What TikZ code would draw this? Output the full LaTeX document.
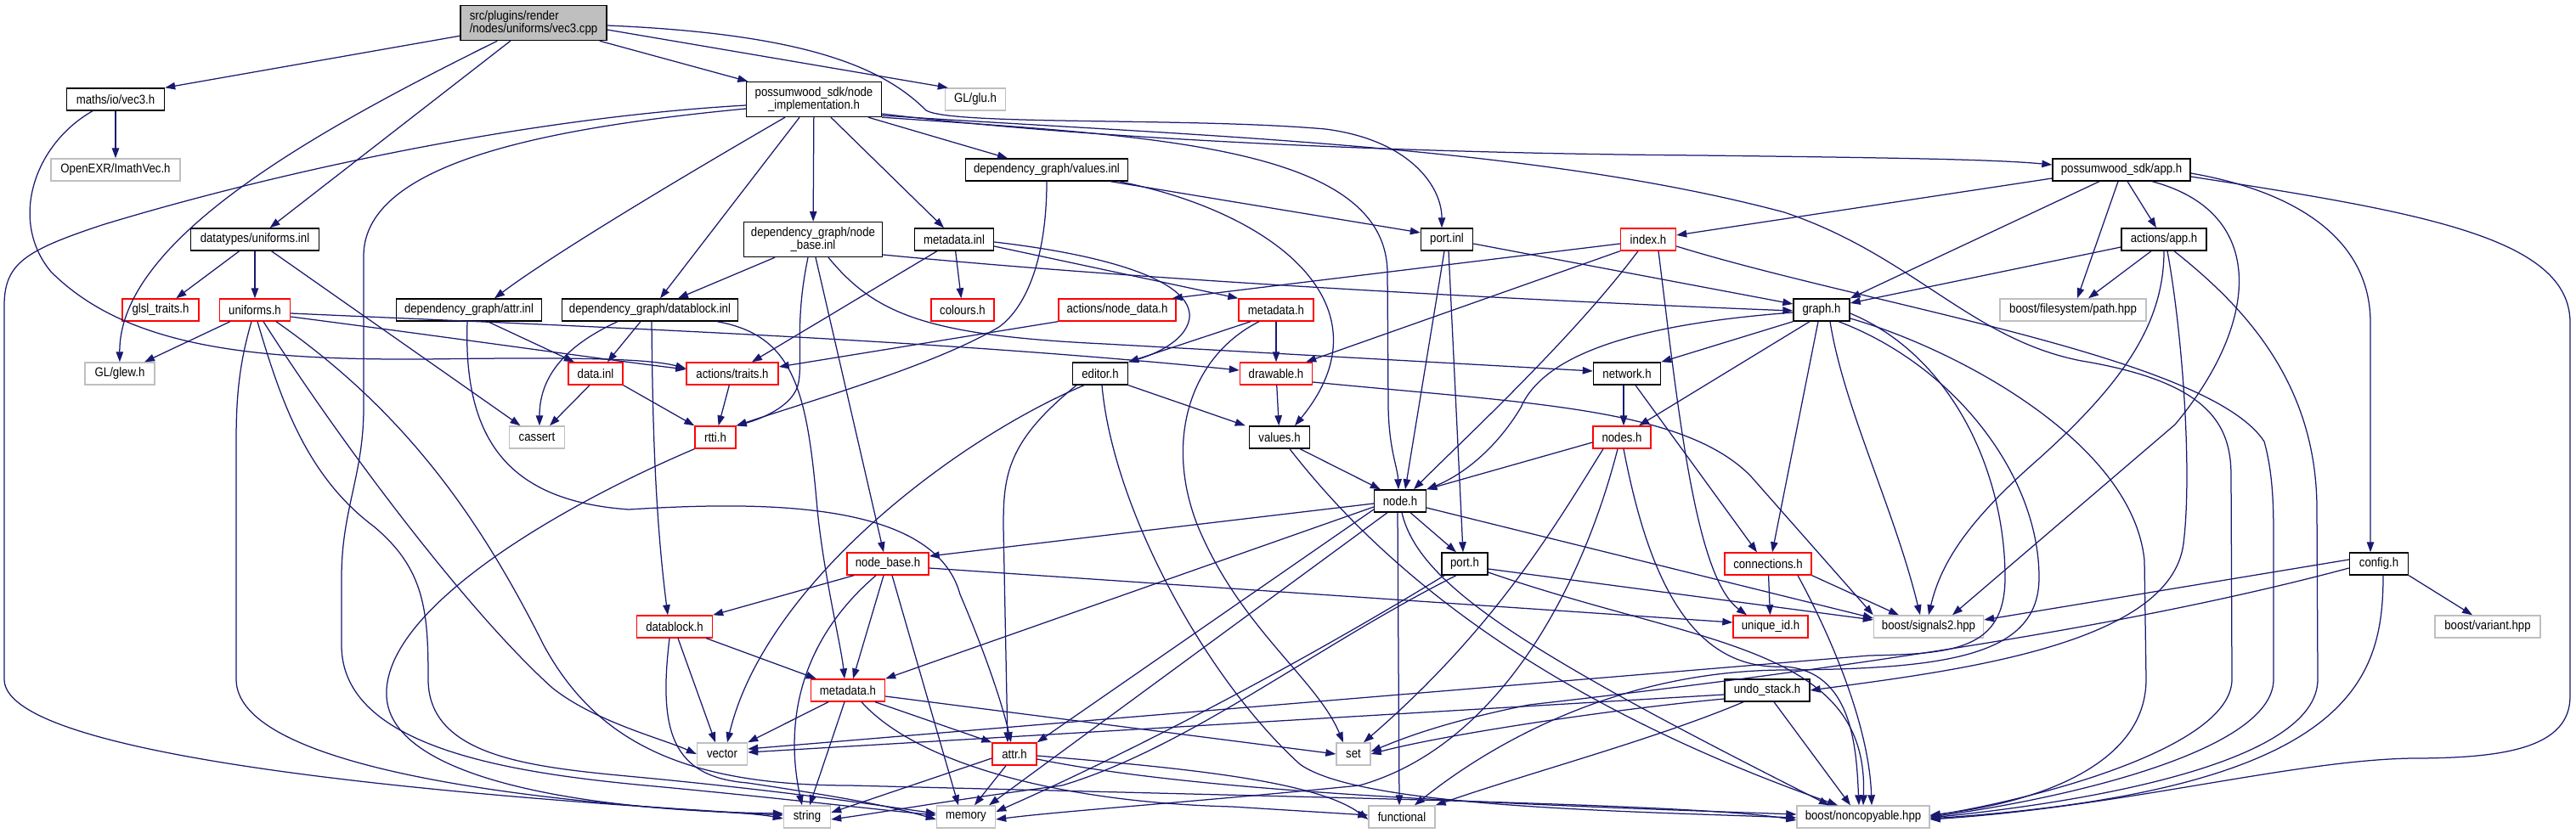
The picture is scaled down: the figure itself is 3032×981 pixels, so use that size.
\documentclass[tikz,border=0pt]{standalone}
\usepackage{fontspec}
\setmainfont{Liberation Sans}[FakeStretch=0.88]
\usetikzlibrary{arrows.meta}
\definecolor{edgec}{HTML}{191970}
\definecolor{gry}{HTML}{BFBFBF}
\definecolor{rd}{HTML}{FF0000}
\begin{document}
\begin{tikzpicture}[x=1pt,y=-1pt,
 nb/.style={draw=black,line width=1.4pt,fill=white,inner sep=0pt,minimum height=26pt,font=\fontsize{15pt}{14.5pt}\selectfont},
 nr/.style={nb,draw=rd},
 ng/.style={nb,draw=gry},
 edg/.style={draw=edgec,line width=1.25pt,-{Triangle[length=12pt,width=8.5pt]}}]
\useasboundingbox (0,0) rectangle (3032,981);
% ---------------- nodes
\node[nb,fill=gry,minimum width=172pt,minimum height=41pt,align=left] (main) at (628,27) {src/plugins/render\\/nodes/uniforms/vec3.cpp};
\node[nb,minimum width=115pt] (vec3h) at (136,117) {maths/io/vec3.h};
\node[ng,minimum width=152pt] (imath) at (136,200) {OpenEXR/ImathVec.h};
\node[nb,minimum width=151pt] (uinl) at (300,282) {datatypes/uniforms.inl};
\node[nr,minimum width=90pt] (glsl) at (189,365) {glsl\_traits.h};
\node[nr,minimum width=83pt] (unih) at (300,365) {uniforms.h};
\node[ng,minimum width=82pt] (glew) at (141,440) {GL/glew.h};
\node[nb,minimum width=171pt] (attrinl) at (552,365) {dependency\_graph/attr.inl};
\node[nb,minimum width=207pt] (dblinl) at (765,365) {dependency\_graph/datablock.inl};
\node[nr,minimum width=64pt] (datainl) at (701,440) {data.inl};
\node[nb,minimum width=159pt,minimum height=41pt,align=center] (nimpl) at (958,117) {possumwood\_sdk/node\\\_implementation.h};
\node[ng,minimum width=71pt] (glu) at (1148,117) {GL/glu.h};
\node[nb,minimum width=191pt] (valinl) at (1232,200) {dependency\_graph/values.inl};
\node[nb,minimum width=163pt,minimum height=41pt,align=center] (nbinl) at (957,282) {dependency\_graph/node\\\_base.inl};
\node[nb,minimum width=93pt] (mdinl) at (1123,282) {metadata.inl};
\node[nr,minimum width=74pt] (colours) at (1133,365) {colours.h};
\node[nr,minimum width=138pt] (nodedata) at (1315,365) {actions/node\_data.h};
\node[nr,minimum width=88pt] (mdh1) at (1502,365) {metadata.h};
\node[nr,minimum width=108pt] (traits) at (862,440) {actions/traits.h};
\node[nb,minimum width=65pt] (editor) at (1295,440) {editor.h};
\node[nr,minimum width=85pt] (drawable) at (1502,440) {drawable.h};
\node[nb,minimum width=61pt] (portinl) at (1703,282) {port.inl};
\node[nr,minimum width=65pt] (index) at (1940,282) {index.h};
\node[nb,minimum width=66pt] (graph) at (2144,365) {graph.h};
\node[nb,minimum width=79pt] (network) at (1915,440) {network.h};
\node[nb,minimum width=162pt] (apph) at (2497,200) {possumwood\_sdk/app.h};
\node[nb,minimum width=100pt] (actapp) at (2547,282) {actions/app.h};
\node[ng,minimum width=172pt] (fspath) at (2440,365) {boost/filesystem/path.hpp};
\node[ng,minimum width=65pt] (cassert) at (632,515) {cassert};
\node[nr,minimum width=48pt] (rtti) at (842,515) {rtti.h};
\node[nb,minimum width=71pt] (valuesh) at (1506,515) {values.h};
\node[nr,minimum width=96pt] (nodebaseh) at (1045,664) {node\_base.h};
\node[nr,minimum width=89pt] (dbh) at (794,738) {datablock.h};
\node[nr,minimum width=87pt] (mdh2) at (998,813) {metadata.h};
\node[ng,minimum width=59pt] (vector) at (850,888) {vector};
\node[nr,minimum width=52pt] (attrh) at (1194,888) {attr.h};
\node[ng,minimum width=55pt] (string) at (950,962) {string};
\node[ng,minimum width=69pt] (memory) at (1137,962) {memory};
\node[nr,minimum width=68pt] (nodesh) at (1909,515) {nodes.h};
\node[nb,minimum width=61pt] (nodeh) at (1648,590) {node.h};
\node[nb,minimum width=54pt] (porth) at (1724,664) {port.h};
\node[nr,minimum width=102pt] (conn) at (2081,664) {connections.h};
\node[nr,minimum width=88pt] (uid) at (2084,738) {unique\_id.h};
\node[nb,minimum width=100pt] (undo) at (2080,813) {undo\_stack.h};
\node[ng,minimum width=40pt] (set) at (1593,888) {set};
\node[ng,minimum width=78pt] (functional) at (1650,962) {functional};
\node[ng,minimum width=156pt] (noncopy) at (2193,962) {boost/noncopyable.hpp};
\node[ng,minimum width=129pt] (signals2) at (2270,738) {boost/signals2.hpp};
\node[nb,minimum width=69pt] (config) at (2800,664) {config.h};
\node[ng,minimum width=124pt] (variant) at (2928,738) {boost/variant.hpp};
% ---------------- edges
% main
\draw[edg] (main) -- (vec3h.north east);
\draw[edg] (main) .. controls (380,150) and (140,280) .. (glew);
\draw[edg] (main) -- (uinl);
\draw[edg] (main) -- (nimpl);
\draw[edg] ([yshift=-8pt]main.east) -- ([xshift=4pt]glu.north west);
\draw[edg] ([yshift=-3pt]main.east) .. controls (950,40) and (1040,80) .. (1090,130) .. controls (1120,148) and (1400,138) .. (1560,152) .. controls (1660,165) and (1697,220) .. ([xshift=-6pt]portinl.north);
% vec3h
\draw[edg] (vec3h) -- (imath);
\draw[edg] ([xshift=-27pt]vec3h.south) .. controls (40,170) and (10,260) .. (60,320) .. controls (150,410) and (300,424) .. (500,423) .. controls (650,421) and (760,421) .. ([yshift=6pt]traits.west);
% uinl
\draw[edg] (uinl) -- (glsl);
\draw[edg] (uinl) -- (unih);
\draw[edg] (uinl) -- (cassert);
% unih
\draw[edg] (unih) -- (glew);
\draw[edg] ([yshift=-8pt]unih.east) .. controls (550,400) and (700,422) .. ([yshift=5pt]traits.west);
\draw[edg] ([yshift=-4pt]unih.east) .. controls (700,385) and (1100,400) .. ([yshift=4pt]drawable.west);
\draw[edg] ([xshift=-4pt]unih.south) .. controls (281,430) and (278,470) .. (278,520) -- (278,800) .. controls (278,900) and (600,945) .. ([yshift=2pt]string.west);
\draw[edg] ([xshift=3pt]unih.south) .. controls (330,470) and (360,560) .. (440,620) .. controls (500,670) and (504,720) .. (504,800) .. controls (504,900) and (650,905) .. (780,918) .. controls (950,935) and (1030,948) .. ([yshift=4pt]memory.west);
\draw[edg] ([xshift=10pt]unih.south) .. controls (400,520) and (550,720) .. (650,810) .. controls (700,850) and (780,870) .. (vector.west);
\draw[edg] ([xshift=25pt]unih.south) .. controls (470,480) and (560,600) .. (640,760) .. controls (700,870) and (800,925) .. (1000,925) -- (1600,940) .. controls (1900,948) and (2050,955) .. ([yshift=-4pt]noncopy.west);
% nimpl
\draw[edg] ([yshift=-7pt]nimpl.west) .. controls (600,140) and (300,210) .. (120,265) .. controls (30,295) and (5,310) .. (5,360) -- (5,800) .. controls (5,880) and (400,925) .. (760,950) .. controls (850,956) and (890,958) .. ([yshift=-2pt]string.west);
\draw[edg] ([yshift=-11pt]nimpl.west) .. controls (650,150) and (430,190) .. (428,300) -- (428,480) .. controls (428,560) and (402,600) .. (402,680) -- (402,760) .. controls (402,880) and (600,910) .. (760,925) .. controls (900,938) and (1000,950) .. ([yshift=2pt]memory.west);
\draw[edg] ([xshift=-34pt]nimpl.south) .. controls (800,210) and (650,300) .. ([xshift=30pt]attrinl.north);
\draw[edg] ([xshift=-17pt]nimpl.south) -- ([xshift=12pt]dblinl.north);
\draw[edg] (nimpl) -- (nbinl);
\draw[edg] ([xshift=20pt]nimpl.south) -- ([xshift=-12pt]mdinl.north);
\draw[edg] ([xshift=64pt]nimpl.south) -- ([xshift=-46pt]valinl.north);
\draw[edg] (nimpl.south east) .. controls (1350,160) and (1630,170) .. (1633,320) -- (1634,480) .. controls (1635,530) and (1645,550) .. ([xshift=-2pt]nodeh.north);
\draw[edg] ([yshift=-17pt]nimpl.east) .. controls (1250,160) and (1600,180) .. (2000,183) .. controls (2250,186) and (2350,188) .. ([yshift=6pt]apph.west);
\draw[edg] ([yshift=-19pt]nimpl.east) .. controls (1400,160) and (1800,170) .. (2100,250) .. controls (2250,300) and (2320,400) .. (2450,425) .. controls (2600,450) and (2626,500) .. (2626,560) -- (2627,800) .. controls (2627,880) and (2400,940) .. ([yshift=1pt]noncopy.east);
% apph
\draw[edg] ([yshift=-10pt]apph.west) -- ([yshift=5pt]index.east);
\draw[edg] ([xshift=-26pt]apph.south) -- (graph.north east);
\draw[edg] ([xshift=-4pt]apph.south) -- ([xshift=5pt]fspath.north);
\draw[edg] ([xshift=7pt]apph.south) -- ([xshift=-9pt]actapp.north);
\draw[edg] ([xshift=36pt]apph.south) .. controls (2670,250) and (2660,380) .. (2560,500) -- ([xshift=28pt]signals2.north);
\draw[edg] ([yshift=-4pt]apph.east) .. controls (2700,225) and (2790,280) .. (2790,380) -- ([xshift=-10pt]config.north);
\draw[edg] ([yshift=-8pt]apph.east) .. controls (2850,250) and (3025,280) .. (3025,380) -- (3025,820) .. controls (3025,880) and (2950,893) .. (2840,893) .. controls (2700,895) and (2500,950) .. ([yshift=-3pt]noncopy.east);
% actapp
\draw[edg] ([xshift=-15pt]actapp.south) -- ([xshift=18pt]fspath.north);
\draw[edg] ([yshift=-9pt]actapp.west) -- ([yshift=8pt]graph.east);
\draw[edg] (actapp.south) .. controls (2547,380) and (2500,450) .. (2400,540) .. controls (2320,610) and (2285,660) .. (signals2.north);
\draw[edg] ([xshift=4pt]actapp.south) .. controls (2570,400) and (2580,560) .. (2570,640) .. controls (2555,760) and (2300,790) .. (undo.east);
\draw[edg] ([xshift=12pt]actapp.south) .. controls (2640,360) and (2727,450) .. (2727,600) -- (2728,800) .. controls (2728,900) and (2450,945) .. ([yshift=-1pt]noncopy.east);
% index
\draw[edg] ([yshift=-5pt]index.west) -- ([xshift=-5pt]nodedata.north east);
\draw[edg] (index.south west) -- ([xshift=-8pt]drawable.north east);
\draw[edg] ([xshift=-12pt]index.south) .. controls (1850,400) and (1720,520) .. ([xshift=16pt]nodeh.north);
\draw[edg] ([xshift=12pt]index.south) .. controls (1975,480) and (1995,680) .. ([xshift=-28pt]uid.north);
\draw[edg] ([yshift=-8pt]index.east) .. controls (2200,360) and (2600,420) .. (2665,520) .. controls (2676,560) and (2676,600) .. (2676,640) -- (2676,800) .. controls (2676,890) and (2400,945) .. (noncopy.east);
% graph
\draw[edg] ([yshift=-3pt]graph.west) .. controls (1950,380) and (1820,410) .. (1790,480) .. controls (1760,530) and (1720,560) .. (nodeh.north east);
\draw[edg] (graph.south west) -- (network.north east);
\draw[edg] ([xshift=-14pt]graph.south) -- ([xshift=20pt]nodesh.north);
\draw[edg] ([xshift=-4pt]graph.south) -- ([xshift=5pt]conn.north);
\draw[edg] ([xshift=10pt]graph.south) .. controls (2170,480) and (2230,600) .. ([xshift=-10pt]signals2.north);
\draw[edg] ([xshift=20pt]graph.south) .. controls (2300,430) and (2400,560) .. (2400,680) .. controls (2400,770) and (2300,788) .. (2100,789) .. controls (1900,790) and (1750,880) .. ([xshift=15pt]functional.north);
\draw[edg] ([yshift=-4pt]graph.east) .. controls (2300,420) and (2360,560) .. (2360,680) .. controls (2360,765) and (2300,770) .. (2200,772) -- ([yshift=6pt]vector.east);
\draw[edg] ([yshift=-10pt]graph.east) .. controls (2300,410) and (2510,520) .. (2524,660) -- (2526,800) .. controls (2526,900) and (2400,945) .. ([yshift=2pt]noncopy.east);
% portinl
\draw[edg] ([yshift=-5pt]portinl.east) -- ([yshift=7pt]graph.west);
\draw[edg] ([xshift=-3pt]portinl.south) -- ([xshift=6pt]nodeh.north);
\draw[edg] ([xshift=2pt]portinl.south) -- ([xshift=-2pt]porth.north);
% nbinl
\draw[edg] ([yshift=-18pt]nbinl.east) .. controls (1400,335) and (1900,358) .. ([yshift=-1pt]graph.west);
\draw[edg] ([xshift=18pt]nbinl.south) .. controls (1030,370) and (1090,395) .. (1300,405) -- ([yshift=3pt]network.west);
\draw[edg] ([xshift=-45pt]nbinl.south) -- ([xshift=33pt]dblinl.north);
\draw[edg] ([xshift=-6pt]nbinl.south) .. controls (935,380) and (945,420) .. (940,450) .. controls (935,480) and (890,495) .. (rtti.north east);
\draw[edg] ([xshift=3pt]nbinl.south) -- ([xshift=-5pt]nodebaseh.north);
% dblinl
\draw[edg] ([xshift=-11pt]dblinl.south) -- ([xshift=14pt]datainl.north);
\draw[edg] ([xshift=-38pt]dblinl.south) .. controls (670,405) and (635,440) .. ([xshift=3pt]cassert.north);
\draw[edg] ([xshift=2pt]dblinl.south) .. controls (768,480) and (770,600) .. ([xshift=-8pt]dbh.north);
\draw[edg] ([xshift=79pt]dblinl.south) .. controls (935,395) and (950,460) .. (962,600) .. controls (970,680) and (990,760) .. ([xshift=-4pt]mdh2.north);
% datainl
\draw[edg] ([xshift=-7pt]datainl.south) -- ([xshift=15pt]cassert.north);
\draw[edg] (datainl.south east) -- (rtti.north west);
% attrinl
\draw[edg] ([xshift=22pt]attrinl.south) -- ([xshift=-25pt]datainl.north);
\draw[edg] ([xshift=-2pt]attrinl.south) .. controls (545,520) and (600,590) .. (740,600) .. controls (900,590) and (1100,590) .. (1130,700) .. controls (1160,770) and (1180,830) .. ([xshift=-4pt]attrh.north);
% mdinl
\draw[edg] (mdinl) -- (colours);
\draw[edg] ([xshift=-20pt]mdinl.south) -- ([xshift=23pt]traits.north);
\draw[edg] ([yshift=-8pt]mdinl.east) -- (mdh1.north west);
\draw[edg] ([yshift=-3pt]mdinl.east) .. controls (1300,300) and (1405,330) .. (1400,375) .. controls (1395,405) and (1350,420) .. (editor.north east);
% mdh1
\draw[edg] (mdh1) -- (drawable);
\draw[edg] ([xshift=-30pt]mdh1.south) -- (editor.north east);
\draw[edg] ([xshift=-20pt]mdh1.south) .. controls (1400,420) and (1370,520) .. (1410,620) .. controls (1460,740) and (1550,800) .. ([xshift=-12pt]set.north);
% nodedata, traits
\draw[edg] (nodedata.south west) -- ([yshift=8pt]traits.east);
\draw[edg] (traits) -- (rtti);
% editor
\draw[edg] ([xshift=-19pt]editor.south) .. controls (1120,520) and (900,690) .. ([xshift=6pt]vector.north);
\draw[edg] ([xshift=-28pt]editor.south) .. controls (1185,520) and (1181,560) .. (1181,620) -- ([xshift=-8pt]attrh.north);
\draw[edg] (editor.south east) -- ([xshift=-4pt]valuesh.north west);
\draw[edg] ([xshift=2pt]editor.south) .. controls (1310,600) and (1420,800) .. (1530,900) .. controls (1600,950) and (1900,955) .. ([yshift=-1pt]noncopy.west);
% drawable
\draw[edg] (drawable) -- (valuesh);
\draw[edg] ([yshift=-10pt]drawable.east) .. controls (1800,475) and (1980,480) .. (2060,560) -- (signals2.north west);
% valinl
\draw[edg] ([xshift=75pt]valinl.south) -- ([yshift=8pt]portinl.west);
\draw[edg] ([xshift=85pt]valinl.south) .. controls (1500,250) and (1640,360) .. ([xshift=18pt]valuesh.north);
\draw[edg] (valinl.south) .. controls (1232,300) and (1210,360) .. (1176,385) .. controls (1100,430) and (960,470) .. (rtti.north east);
% rtti
\draw[edg] (rtti.south west) .. controls (650,600) and (450,720) .. (455,820) .. controls (460,920) and (700,955) .. ([yshift=4pt]string.west);
% dbh
\draw[edg] (dbh) -- (mdh2);
\draw[edg] ([xshift=4pt]dbh.south) -- ([xshift=-8pt]vector.north);
\draw[edg] ([xshift=-6pt]dbh.south) .. controls (775,860) and (790,915) .. (880,922) .. controls (1000,940) and (1050,950) .. ([yshift=-3pt]memory.west);
% nodebaseh
\draw[edg] ([xshift=-40pt]nodebaseh.south) -- (dbh.north east);
\draw[edg] ([xshift=-5pt]nodebaseh.south) -- ([xshift=6pt]mdh2.north);
\draw[edg] ([xshift=-14pt]nodebaseh.south) .. controls (935,760) and (925,860) .. ([xshift=-6pt]string.north);
\draw[edg] ([xshift=5pt]nodebaseh.south) -- ([xshift=-9pt]memory.north);
\draw[edg] ([yshift=-5pt]nodebaseh.east) -- ([yshift=5pt]uid.west);
% mdh2
\draw[edg] ([xshift=-23pt]mdh2.south) -- (vector.north east);
\draw[edg] ([xshift=-4pt]mdh2.south) -- ([xshift=3pt]string.north);
\draw[edg] ([xshift=32pt]mdh2.south) -- (attrh.north west);
\draw[edg] ([xshift=16pt]mdh2.south) .. controls (1080,900) and (1250,945) .. (1450,950) -- ([yshift=2pt]functional.west);
\draw[edg] ([yshift=-7pt]mdh2.east) -- (set.west);
% attrh
\draw[edg] ([yshift=-5pt]attrh.west) -- ([yshift=5pt]string.east);
\draw[edg] ([xshift=-10pt]attrh.south) -- ([xshift=10pt]memory.north);
\draw[edg] ([yshift=-2pt]attrh.east) .. controls (1400,905) and (1550,920) .. ([yshift=-3pt]functional.west);
\draw[edg] ([yshift=-6pt]attrh.east) .. controls (1400,930) and (1700,945) .. ([yshift=3pt]noncopy.west);
% nodeh
\draw[edg] ([yshift=-3pt]nodeh.west) -- ([yshift=9pt]nodebaseh.east);
\draw[edg] ([yshift=-7pt]nodeh.west) -- (mdh2.north east);
\draw[edg] ([yshift=-10pt]nodeh.west) -- (attrh.north east);
\draw[edg] ([xshift=-15pt]nodeh.south) -- ([xshift=27pt]memory.north);
\draw[edg] ([xshift=-3pt]nodeh.south) -- ([xshift=-3pt]functional.north);
\draw[edg] ([xshift=12pt]nodeh.south) -- ([xshift=-10pt]porth.north);
\draw[edg] ([yshift=-8pt]nodeh.east) -- ([yshift=10pt]signals2.west);
\draw[edg] ([xshift=2pt]nodeh.south) .. controls (1670,690) and (1800,770) .. ([xshift=-40pt]noncopy.north);
% porth
\draw[edg] ([yshift=-6pt]porth.east) -- ([yshift=8pt]signals2.west);
\draw[edg] ([yshift=-10pt]porth.east) .. controls (2000,760) and (2200,760) .. (noncopy.north);
\draw[edg] ([xshift=-10pt]porth.south) .. controls (1550,760) and (1400,880) .. (1250,925) .. controls (1100,945) and (1050,955) .. ([yshift=-3pt]string.east);
\draw[edg] ([xshift=-24pt]porth.south) .. controls (1500,800) and (1300,900) .. ([yshift=6pt]memory.east);
% valuesh
\draw[edg] ([xshift=-12pt]valuesh.south east) -- ([xshift=8pt]nodeh.north west);
\draw[edg] ([xshift=12pt]valuesh.south) .. controls (1620,660) and (1800,820) .. ([xshift=-30pt]noncopy.north);
% nodesh
\draw[edg] ([yshift=-6pt]nodesh.west) -- (nodeh.north east);
\draw[edg] ([xshift=-22pt]nodesh.south) .. controls (1830,620) and (1760,740) .. ([xshift=12pt]set.north);
\draw[edg] ([xshift=-5pt]nodesh.south) .. controls (1860,700) and (1760,880) .. (1600,925) .. controls (1400,945) and (1250,955) .. ([yshift=-3pt]memory.east);
\draw[edg] ([xshift=2pt]nodesh.south) .. controls (1940,680) and (1990,790) .. (2100,785) .. controls (2180,790) and (2185,880) .. ([xshift=-5pt]noncopy.north);
% network
\draw[edg] ([xshift=-4pt]network.south) -- ([xshift=2pt]nodesh.north);
\draw[edg] ([xshift=10pt]network.south) -- ([xshift=-13pt]conn.north);
% conn
\draw[edg] (conn) -- (uid);
\draw[edg] (conn.south east) -- ([xshift=-35pt]signals2.north);
\draw[edg] ([xshift=35pt]conn.south) .. controls (2150,740) and (2200,850) .. ([xshift=10pt]noncopy.north);
% undo
\draw[edg] ([yshift=-5pt]undo.west) -- ([yshift=2pt]vector.east);
\draw[edg] ([yshift=-10pt]undo.west) .. controls (1900,835) and (1700,865) .. (set.east);
\draw[edg] ([xshift=-28pt]undo.south) .. controls (1950,870) and (1800,910) .. (functional.north east);
\draw[edg] ([xshift=8pt]undo.south) -- ([xshift=-15pt]noncopy.north);
% config
\draw[edg] ([yshift=5pt]config.west) -- ([yshift=8pt]signals2.east);
\draw[edg] ([yshift=-5pt]config.west) .. controls (2500,740) and (2150,790) .. (1800,830) .. controls (1700,850) and (1650,870) .. ([yshift=3pt]set.east);
\draw[edg] (config.south east) -- ([xshift=-18pt]variant.north);
\draw[edg] ([xshift=5pt]config.south) .. controls (2805,800) and (2770,930) .. ([yshift=-2pt]noncopy.east);
\end{tikzpicture}
\end{document}
